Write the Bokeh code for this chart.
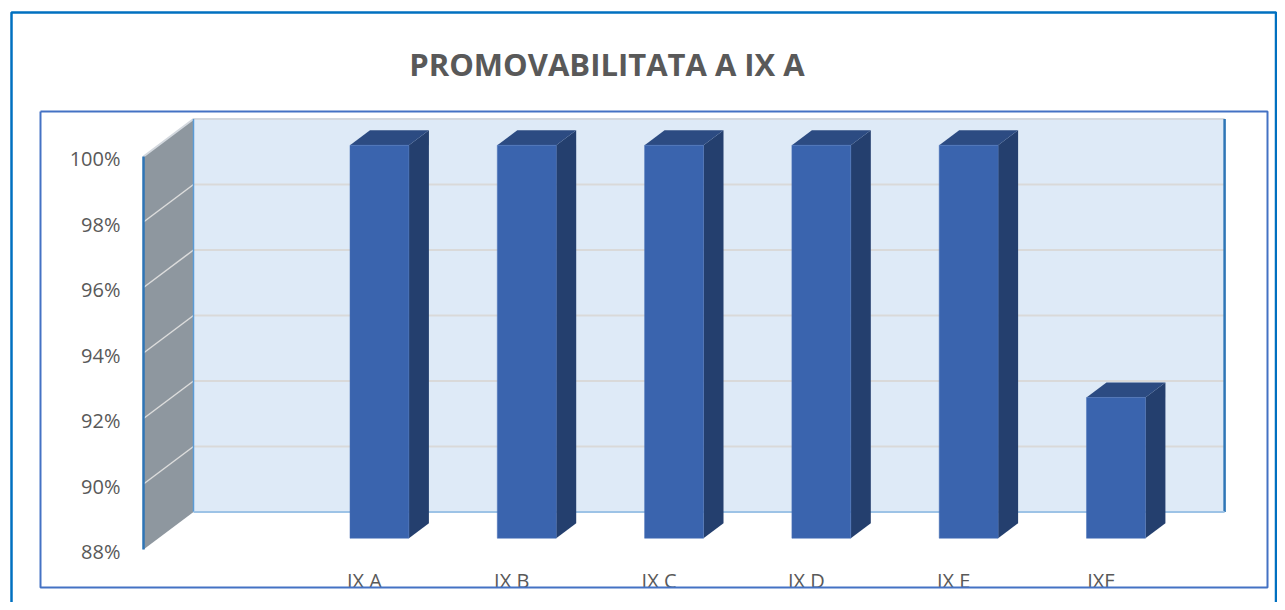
import numpy as np
from bokeh.plotting import figure
from bokeh.models import Range1d
from bokeh.core.properties import value
from bokeh.embed import file_html
from bokeh.resources import INLINE

# ---------------- data ----------------
title_text = "PROMOVABILITATA A IX A"
categories = ["IX A", "IX B", "IX C", "IX D", "IX E", "IXF"]
promotion = [100, 100, 100, 100, 100, 92.3]
y_ticks = [88, 90, 92, 94, 96, 98, 100]
y_tick_labels = ["88%", "90%", "92%", "94%", "96%", "98%", "100%"]

# ---------------- geometry (picture pixels -> data) ----------------
W, H = 1277, 602
OFF = 0
X_SCALE = 147.3   # px per category slot
Y_SCALE = 32.75   # px per percent
FX, FY = 143, 549  # px of front plane corner (x=-0.5, y=y_ticks[0])
Y0 = y_ticks[0]
Y1 = y_ticks[-1]


def px2x(px):
    return -0.5 + (px - FX) / X_SCALE


def px2y(py):
    return Y0 + (FY - py) / Y_SCALE


DX = 50 / X_SCALE      # depth shift (x) front plane -> back wall
DY = 37.5 / Y_SCALE    # depth shift (y)
F1, F2 = 0.3, 0.7      # bar front / back depth fractions
BW = 0.4               # bar width in category units

pos = np.arange(len(categories)) + 1.0
vals = np.array(promotion, dtype=float)
XL, XR = -0.5, len(categories) + 0.5

p = figure(width=W, height=H,
           x_range=Range1d(px2x(OFF), px2x(OFF + W)),
           y_range=Range1d(px2y(OFF + H), px2y(OFF)),
           output_backend="svg", toolbar_location=None,
           x_axis_location=None, y_axis_location=None, min_border=0)
p.grid.visible = False
p.outline_line_color = None
p.background_fill_color = "white"
p.border_fill_color = "white"

TXT = "#595959"
FONT = value("Open Sans")

# outer chart border
p.line([px2x(11), px2x(11), px2x(1275.5), px2x(1275.5)],
       [px2y(640), px2y(12), px2y(12), px2y(640)],
       line_color="#0070C0", line_width=2.5)

# title
p.text(x=[px2x(606.5)], y=[px2y(63)], text=[title_text], text_font=FONT,
       text_font_style="bold", text_font_size="31px", text_color=TXT,
       text_align="center", text_baseline="middle")

# back wall
p.patch([XL + DX, XR + DX, XR + DX, XL + DX], [Y0 + DY, Y0 + DY, Y1 + DY, Y1 + DY],
        fill_color="#DEEAF7", line_color=None)
# side wall
p.patch([XL, XL + DX, XL + DX, XL], [Y0, Y0 + DY, Y1 + DY, Y1],
        fill_color="#8E979F", line_color=None)

# gridlines on back wall & side wall
grid_vals = y_ticks[1:-1]
p.multi_line([[XL + DX, XR + DX] for _ in grid_vals], [[v + DY, v + DY] for v in grid_vals],
             line_color="#D9D9D9", line_width=2)
p.multi_line([[XL, XL + DX] for _ in grid_vals], [[v, v + DY] for v in grid_vals],
             line_color="#DCDCDC", line_width=1.5)
# top edges
p.line([XL, XL + DX, XR + DX], [Y1, Y1 + DY, Y1 + DY], line_color="#D3D8DE", line_width=2)
# wall edges
p.line([XL + DX, XL + DX], [Y0 + DY, Y1 + DY], line_color="#5B9BD5", line_width=1.5)
p.line([XR + DX, XR + DX], [Y0 + DY, Y1 + DY], line_color="#2E75B6", line_width=2.5)
p.line([XL + DX, XR + DX], [Y0 + DY, Y0 + DY], line_color="#9DC3E6", line_width=2)
p.line([XL, XL], [Y0, Y1], line_color="#2E75B6", line_width=2.5)

# bars: side, top, front
side_xs = [[c + BW / 2 + F1 * DX, c + BW / 2 + F2 * DX, c + BW / 2 + F2 * DX, c + BW / 2 + F1 * DX]
           for c in pos]
side_ys = [[Y0 + F1 * DY, Y0 + F2 * DY, v + F2 * DY, v + F1 * DY] for v in vals]
p.patches(side_xs, side_ys, fill_color="#243F6E", line_color=None)

top_xs = [[c - BW / 2 + F1 * DX, c + BW / 2 + F1 * DX, c + BW / 2 + F2 * DX, c - BW / 2 + F2 * DX]
          for c in pos]
top_ys = [[v + F1 * DY, v + F1 * DY, v + F2 * DY, v + F2 * DY] for v in vals]
p.patches(top_xs, top_ys, fill_color="#2C4B82", line_color=None)

p.quad(left=pos - BW / 2 + F1 * DX, right=pos + BW / 2 + F1 * DX,
       bottom=Y0 + F1 * DY, top=vals + F1 * DY,
       fill_color="#3A64AE", line_color="#4A72B8", line_width=0.5)

# y tick labels
p.text(x=[px2x(120)] * len(y_ticks), y=y_ticks, text=y_tick_labels, text_font=FONT,
       text_font_size="20px", text_color=TXT, text_align="right",
       text_baseline="middle", y_offset=2)

# category labels
p.text(x=pos, y=[px2y(580)] * len(categories), text=categories, text_font=FONT,
       text_font_size="20px", text_color=TXT, text_align="center",
       text_baseline="middle")

# plot area border (drawn on top)
p.line([px2x(40), px2x(1267), px2x(1267), px2x(40), px2x(40)],
       [px2y(111), px2y(111), px2y(587), px2y(587), px2y(111)],
       line_color="#4472C4", line_width=2)

open("out.html", "w").write(file_html(p, INLINE))
